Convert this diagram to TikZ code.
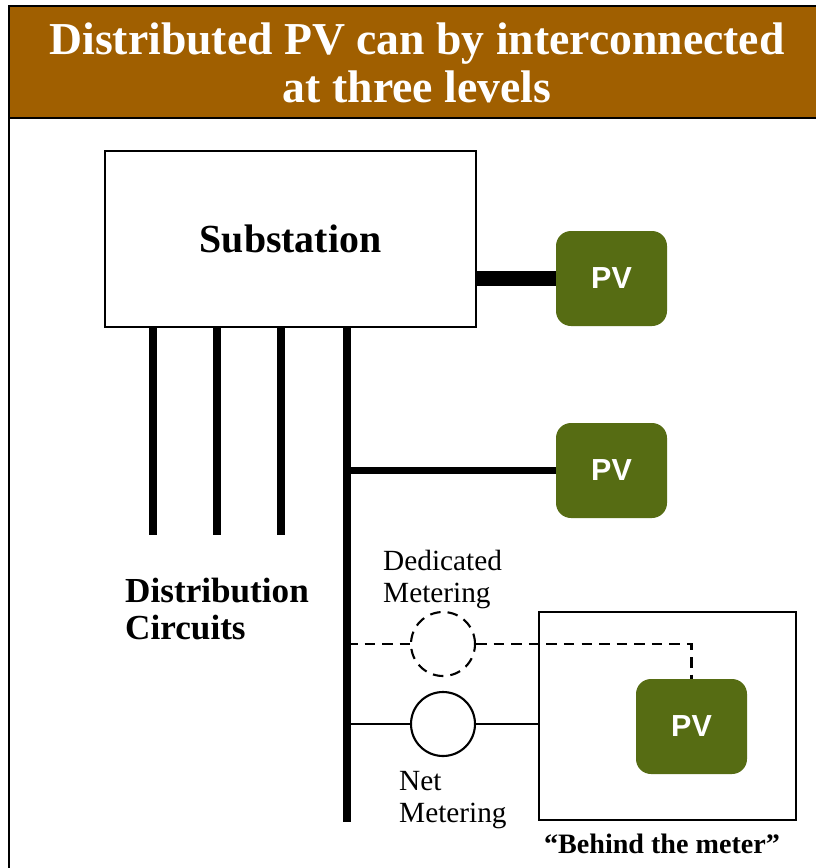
\documentclass[tikz,border=0pt]{standalone}
\usepackage{fontspec}
\setmainfont{Liberation Serif}
\newfontfamily\PVLabelFont{Liberation Sans}
\usetikzlibrary{positioning,calc}
\definecolor{titlebrown}{HTML}{A05F00}
\definecolor{pvgreen}{HTML}{566C13}
\newcommand{\LevelsTitleFont}{\fontsize{39pt}{41pt}\selectfont}
\newcommand{\LevelsBlockFont}{\fontsize{34pt}{38pt}\selectfont}
\newcommand{\LevelsLabelFont}{\fontsize{30pt}{31.5pt}\selectfont}
\newcommand{\LevelsMeterFont}{\fontsize{25pt}{27.5pt}\selectfont}

\begin{document}
\begin{tikzpicture}[x=0.03cm,y=-0.03cm]
            \tikzset{
                levels frame/.style={draw=black, line width=2pt},
                levels title/.style={draw=black, fill=titlebrown, line width=2.5pt},
                substation block/.style={draw=black, fill=white, line width=2pt,
                    minimum width=11.13cm, minimum height=5.28cm, inner sep=0pt,
                    font=\LevelsBlockFont\bfseries},
                pv block/.style={fill=pvgreen, rounded corners=0.45cm,
                    minimum width=3.33cm, minimum height=2.85cm, inner sep=0pt,
                    font=\PVLabelFont\fontsize{26pt}{30pt}\selectfont\bfseries, text=white},
                home block/.style={draw=black, line width=2pt,
                    minimum width=7.71cm, minimum height=6.24cm, inner sep=0pt},
                meter/.style={draw=black, fill=white, circle, line width=1.8pt,
                    minimum size=1.92cm, inner sep=0pt},
                feeder/.style={line width=7pt},
                pv tie/.style={line width=12pt},
                pv branch/.style={line width=6pt},
                meter line/.style={line width=1.8pt},
                meter dashed/.style={line width=1.8pt, dash pattern=on 9pt off 6pt}
            }
            \useasboundingbox (0,0) rectangle (816,868);
            \fill[white] (0,0) rectangle (816,868);
            \draw[levels frame] (9,6) rectangle (840,890);
            \draw[levels title] (9,6) rectangle (840,118);
            \node[font=\LevelsTitleFont\bfseries, text=white, align=center]
                (title) at (417,63) {Distributed PV can by interconnected\\at three levels};

            \node[substation block] (substation) at (290.5,239) {Substation};
            \node[pv block] (pv-substation) at (611.5,278.5) {PV};
            \node[pv block] (pv-feeder) at (611.5,470.5) {PV};
            \node[home block] (behind-box) at (667.5,716) {};
            \node[pv block] (pv-home) at (691.5,726.5) {PV};
            \node[meter, dash pattern=on 9pt off 6pt] (dedicated-meter) at (443,644) {};
            \node[meter] (net-meter) at (443,724) {};

            \draw[pv tie] (substation.east |- pv-substation.west) -- (pv-substation.west);

            \foreach \feeder/\x in {1/153,2/217,3/281} {
                \coordinate (feeder-\feeder-end) at (\x,535);
                \draw[feeder] (feeder-\feeder-end |- substation.south) -- (feeder-\feeder-end);
            }
            \coordinate (trunk-end) at (347,822);
            \draw[feeder] (trunk-end |- substation.south) -- (trunk-end);

            \draw[pv branch] (trunk-end |- pv-feeder.west) -- (pv-feeder.west);
            \draw[meter dashed] (trunk-end |- dedicated-meter.west) -- (dedicated-meter.west);
            \draw[meter dashed] (dedicated-meter.east) -| (pv-home.north);
            \draw[meter line] (trunk-end |- net-meter.west) -- (net-meter.west);
            \draw[meter line] (net-meter.east) -- (behind-box.west |- net-meter.east);

            \node[font=\LevelsLabelFont\bfseries, align=left, anchor=north west, inner sep=0pt]
                (circuits-label) at (125,578) {Distribution\\Circuits};
            \node[font=\LevelsMeterFont, align=left, anchor=north west, inner sep=0pt]
                (dedicated-label) at (383,550) {Dedicated\\Metering};
            \node[font=\LevelsMeterFont, align=left, anchor=north west, inner sep=0pt]
                (net-label) at (399,771) {Net\\Metering};
            \node[font=\fontsize{24pt}{28pt}\selectfont\bfseries, anchor=north, inner sep=0pt]
                (behind-label) at (662,834) {``Behind the meter''};
        \end{tikzpicture}
\end{document}
